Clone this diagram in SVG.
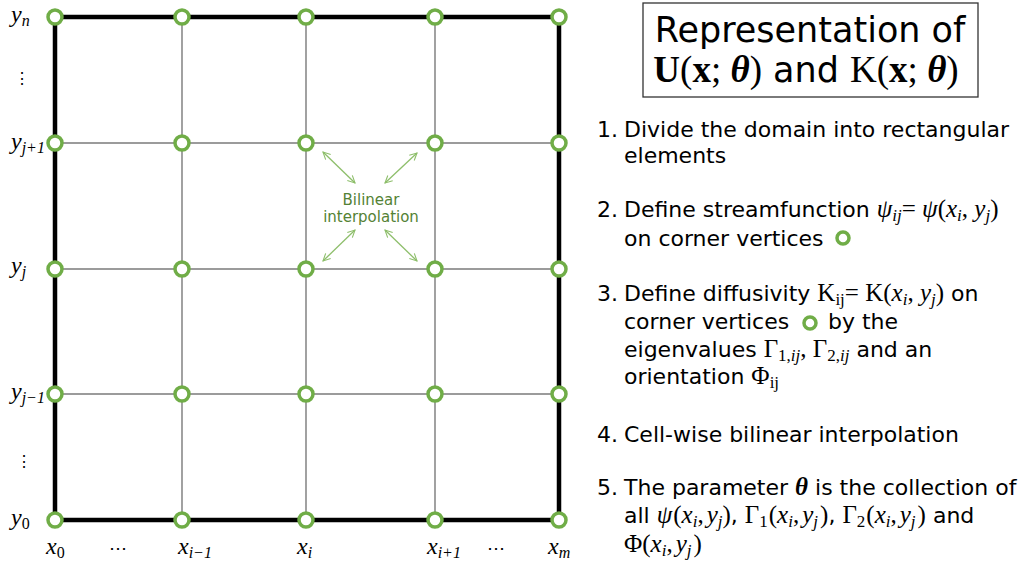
<svg xmlns="http://www.w3.org/2000/svg" width="1030" height="567" viewBox="0 0 1030 567">
<defs>
<marker id="ah" viewBox="0 0 10 10" refX="9" refY="5" markerWidth="9" markerHeight="9" markerUnits="userSpaceOnUse" orient="auto-start-reverse">
<path d="M1,1 L9,5 L1,9" fill="none" stroke="#8DBE6A" stroke-width="1.2"/>
</marker>
</defs>
<style>
.grid{stroke:#7a7a7a;stroke-width:1.4;fill:none}
.border{stroke:#000;stroke-width:4.5;fill:none}
.node{fill:#fff;stroke:#70AD47;stroke-width:3.5}
.arr{stroke:#8DBE6A;stroke-width:1.3;fill:none}
.mi{font-family:"Liberation Serif",serif;font-style:italic}
.mr{font-family:"Liberation Serif",serif}
.lbl{font-family:"Liberation Serif",serif;font-style:italic;font-size:24px;fill:#000}
.sub{font-size:16px}
.txt{font-family:"DejaVu Sans",Verdana,sans-serif;font-size:22px;fill:#000}
.m{font-size:25px}
.s{font-size:17px}
.ann{font-family:"DejaVu Sans",Verdana,sans-serif;font-size:15px;fill:#548235;text-anchor:middle}
.title{font-family:"DejaVu Sans",Verdana,sans-serif;font-size:35px;fill:#000;text-anchor:middle}
.tm{font-size:37px}
</style>
<rect width="1030" height="567" fill="#fff"/>
<g id="grid">
<line class="grid" x1="182" y1="17" x2="182" y2="520"/>
<line class="grid" x1="306" y1="17" x2="306" y2="520"/>
<line class="grid" x1="435" y1="17" x2="435" y2="520"/>
<line class="grid" x1="55" y1="143" x2="559" y2="143"/>
<line class="grid" x1="55" y1="269" x2="559" y2="269"/>
<line class="grid" x1="55" y1="394" x2="559" y2="394"/>
<rect class="border" x="55" y="17" width="504" height="503"/>
</g>
<g id="connectors">
<line class="arr" x1="323" y1="152" x2="355" y2="183" marker-start="url(#ah)" marker-end="url(#ah)"/>
<line class="arr" x1="417" y1="153" x2="385" y2="183" marker-start="url(#ah)" marker-end="url(#ah)"/>
<line class="arr" x1="355" y1="230" x2="323" y2="261" marker-start="url(#ah)" marker-end="url(#ah)"/>
<line class="arr" x1="385" y1="230" x2="417" y2="261" marker-start="url(#ah)" marker-end="url(#ah)"/>
</g>
<g id="nodes">
<g id="n00"><circle class="node" cx="55" cy="17" r="7"/></g>
<g id="n01"><circle class="node" cx="182" cy="17" r="7"/></g>
<g id="n02"><circle class="node" cx="306" cy="17" r="7"/></g>
<g id="n03"><circle class="node" cx="435" cy="17" r="7"/></g>
<g id="n04"><circle class="node" cx="559" cy="17" r="7"/></g>
<g id="n10"><circle class="node" cx="55" cy="143" r="7"/></g>
<g id="n11"><circle class="node" cx="182" cy="143" r="7"/></g>
<g id="n12"><circle class="node" cx="306" cy="143" r="7"/></g>
<g id="n13"><circle class="node" cx="435" cy="143" r="7"/></g>
<g id="n14"><circle class="node" cx="559" cy="143" r="7"/></g>
<g id="n20"><circle class="node" cx="55" cy="269" r="7"/></g>
<g id="n21"><circle class="node" cx="182" cy="269" r="7"/></g>
<g id="n22"><circle class="node" cx="306" cy="269" r="7"/></g>
<g id="n23"><circle class="node" cx="435" cy="269" r="7"/></g>
<g id="n24"><circle class="node" cx="559" cy="269" r="7"/></g>
<g id="n30"><circle class="node" cx="55" cy="394" r="7"/></g>
<g id="n31"><circle class="node" cx="182" cy="394" r="7"/></g>
<g id="n32"><circle class="node" cx="306" cy="394" r="7"/></g>
<g id="n33"><circle class="node" cx="435" cy="394" r="7"/></g>
<g id="n34"><circle class="node" cx="559" cy="394" r="7"/></g>
<g id="n40"><circle class="node" cx="55" cy="520" r="7"/></g>
<g id="n41"><circle class="node" cx="182" cy="520" r="7"/></g>
<g id="n42"><circle class="node" cx="306" cy="520" r="7"/></g>
<g id="n43"><circle class="node" cx="435" cy="520" r="7"/></g>
<g id="n44"><circle class="node" cx="559" cy="520" r="7"/></g>
</g>
<g id="axis-labels">
<text class="lbl" x="11" y="22">y<tspan class="sub" dy="4">n</tspan></text>
<text class="mr" x="22" y="84" font-size="16" text-anchor="middle">⋮</text>
<text class="lbl" x="11" y="149">y<tspan class="sub" dy="4">j+1</tspan></text>
<text class="lbl" x="11" y="273">y<tspan class="sub" dy="4">j</tspan></text>
<text class="lbl" x="11" y="399">y<tspan class="sub" dy="4">j−1</tspan></text>
<text class="mr" x="24" y="467" font-size="16" text-anchor="middle">⋮</text>
<text class="lbl" x="11" y="525">y<tspan class="sub" dy="4" font-style="normal">0</tspan></text>
<text class="lbl" x="46" y="554">x<tspan class="sub" dy="4" font-style="normal">0</tspan></text>
<text class="mr" x="118" y="554" font-size="18" text-anchor="middle">⋯</text>
<text class="lbl" x="178" y="554">x<tspan class="sub" dy="4">i−1</tspan></text>
<text class="lbl" x="297" y="554">x<tspan class="sub" dy="4">i</tspan></text>
<text class="lbl" x="427" y="554">x<tspan class="sub" dy="4">i+1</tspan></text>
<text class="mr" x="496" y="554" font-size="18" text-anchor="middle">⋯</text>
<text class="lbl" x="548" y="554">x<tspan class="sub" dy="4">m</tspan></text>
</g>
<g id="annotation">
<text class="ann" x="371" y="205">Bilinear</text>
<text class="ann" x="371" y="222">interpolation</text>
</g>
<g id="title">
<rect x="643" y="3" width="335" height="94" fill="#fff" stroke="#333" stroke-width="1.3"/>
<text class="title" x="810" y="42">Representation of</text>
<text class="title" x="806" y="82"><tspan class="mr tm" font-weight="bold">U</tspan><tspan class="mr tm">(</tspan><tspan class="mr tm" font-weight="bold">x</tspan><tspan class="mr tm">; </tspan><tspan class="mi tm" font-weight="bold">θ</tspan><tspan class="mr tm">)</tspan> and <tspan class="mr tm">K(</tspan><tspan class="mr tm" font-weight="bold">x</tspan><tspan class="mr tm">; </tspan><tspan class="mi tm" font-weight="bold">θ</tspan><tspan class="mr tm">)</tspan></text>
</g>
<g id="list">
<text class="txt" x="597" y="137">1.</text>
<text class="txt" x="624" y="137">Divide the domain into rectangular</text>
<text class="txt" x="624" y="163">elements</text>
<text class="txt" x="597" y="217">2.</text>
<text class="txt" x="624" y="217">Define streamfunction <tspan class="mi m">ψ</tspan><tspan class="mi s" dy="4">ij</tspan><tspan class="mr m" dy="-4">= </tspan><tspan class="mi m">ψ</tspan><tspan class="mr m">(</tspan><tspan class="mi m">x</tspan><tspan class="mi s" dy="4">i</tspan><tspan class="mr m" dy="-4">, </tspan><tspan class="mi m">y</tspan><tspan class="mi s" dy="4">j</tspan><tspan class="mr m" dy="-4">)</tspan></text>
<text class="txt" x="624" y="246">on corner vertices</text>
<circle class="node" cx="843" cy="238" r="6"/>
<text class="txt" x="597" y="301">3.</text>
<text class="txt" x="624" y="301">Define diffusivity <tspan class="mr m">K</tspan><tspan class="mr s" dy="4">ij</tspan><tspan class="mr m" dy="-4">= K(</tspan><tspan class="mi m">x</tspan><tspan class="mi s" dy="4">i</tspan><tspan class="mr m" dy="-4">, </tspan><tspan class="mi m">y</tspan><tspan class="mi s" dy="4">j</tspan><tspan class="mr m" dy="-4">)</tspan> on</text>
<text class="txt" x="624" y="329">corner vertices</text>
<circle class="node" cx="810" cy="323" r="6"/>
<text class="txt" x="828" y="329">by the</text>
<text class="txt" x="624" y="357">eigenvalues <tspan class="mr m">Γ</tspan><tspan class="mr s" dy="4">1,<tspan class="mi">ij</tspan></tspan><tspan class="mr m" dy="-4">, Γ</tspan><tspan class="mr s" dy="4">2,<tspan class="mi">ij</tspan></tspan><tspan dy="-4"> and an</tspan></text>
<text class="txt" x="624" y="384">orientation <tspan class="mr m">Φ</tspan><tspan class="mr s" dy="4">ij</tspan></text>
<text class="txt" x="597" y="442">4.</text>
<text class="txt" x="624" y="442">Cell-wise bilinear interpolation</text>
<text class="txt" x="597" y="495">5.</text>
<text class="txt" x="624" y="495">The parameter <tspan class="mi m" font-weight="bold">θ</tspan> is the collection of</text>
<text class="txt" x="624" y="523">all <tspan class="mi m">ψ</tspan><tspan class="mr m" dx="1">(</tspan><tspan class="mi m">x</tspan><tspan class="mi s" dy="4">i</tspan><tspan class="mr m" dy="-4">,</tspan><tspan class="mi m" dx="3">y</tspan><tspan class="mi s" dy="4">j</tspan><tspan class="mr m" dy="-4">)</tspan>, <tspan class="mr m">Γ</tspan><tspan class="mr s" dy="4">1</tspan><tspan class="mr m" dy="-4" dx="1">(</tspan><tspan class="mi m">x</tspan><tspan class="mi s" dy="4">i</tspan><tspan class="mr m" dy="-4">,</tspan><tspan class="mi m" dx="3">y</tspan><tspan class="mi s" dy="4">j</tspan><tspan class="mr m" dy="-4" dx="2">)</tspan>, <tspan class="mr m">Γ</tspan><tspan class="mr s" dy="4">2</tspan><tspan class="mr m" dy="-4" dx="1">(</tspan><tspan class="mi m">x</tspan><tspan class="mi s" dy="4">i</tspan><tspan class="mr m" dy="-4">,</tspan><tspan class="mi m" dx="3">y</tspan><tspan class="mi s" dy="4">j</tspan><tspan class="mr m" dy="-4" dx="2">)</tspan> and</text>
<text class="txt" x="624" y="552"><tspan class="mr m">Φ(</tspan><tspan class="mi m">x</tspan><tspan class="mi s" dy="4">i</tspan><tspan class="mr m" dy="-4">,</tspan><tspan class="mi m" dx="3">y</tspan><tspan class="mi s" dy="4">j</tspan><tspan class="mr m" dy="-4" dx="2">)</tspan></text>
</g>
</svg>
